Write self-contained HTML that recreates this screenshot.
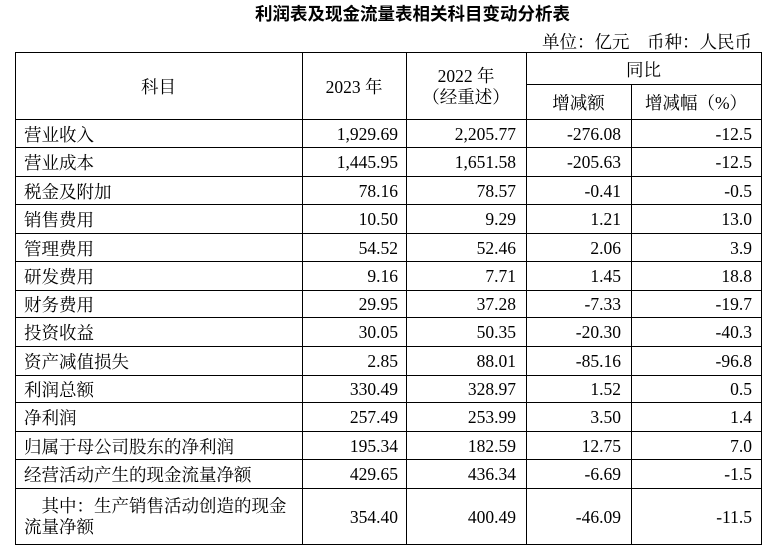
<!DOCTYPE html>
<html><head><meta charset="utf-8">
<style>
*{margin:0;padding:0;box-sizing:border-box}
html,body{width:775px;height:551px;background:#fff;overflow:hidden}
body{position:relative;font-family:"Liberation Serif","Noto Serif CJK SC",serif;font-size:17.5px;color:#000}
.t{position:absolute;left:240px;width:345px;top:0;height:28px;line-height:28px;text-align:center;font-family:"Liberation Sans","Noto Sans CJK SC",sans-serif;font-weight:bold;font-size:17.5px;white-space:nowrap}
.u{position:absolute;right:23px;top:29px;height:26px;line-height:26px;white-space:nowrap}
.h{position:absolute;background:#000;height:1px}
.v{position:absolute;background:#000;width:1px}
.c{position:absolute;display:flex;align-items:center;white-space:nowrap;padding-top:2px}
.cc{justify-content:center;text-align:center}
.r{position:absolute;left:0;width:775px}
.r .c{top:0;bottom:0}
.a{left:24px}
.b{left:302px;width:104px;justify-content:flex-end;padding-right:8px}
.d{left:406px;width:120px;justify-content:flex-end;padding-right:10px}
.e{left:526px;width:105px;justify-content:flex-end;padding-right:10px}
.f{left:631px;width:130px;justify-content:flex-end;padding-right:9px}
</style></head><body>
<div class="t">利润表及现金流量表相关科目变动分析表</div>
<div class="u">单位：亿元　币种：人民币</div>

<!-- horizontal lines -->
<div class="h" style="left:15px;width:747px;top:52px"></div>
<div class="h" style="left:526px;width:236px;top:84px"></div>
<div class="h" style="left:15px;width:747px;top:119px"></div>
<div class="h" style="left:15px;width:747px;top:147px"></div>
<div class="h" style="left:15px;width:747px;top:176px"></div>
<div class="h" style="left:15px;width:747px;top:204px"></div>
<div class="h" style="left:15px;width:747px;top:233px"></div>
<div class="h" style="left:15px;width:747px;top:261px"></div>
<div class="h" style="left:15px;width:747px;top:290px"></div>
<div class="h" style="left:15px;width:747px;top:317px"></div>
<div class="h" style="left:15px;width:747px;top:346px"></div>
<div class="h" style="left:15px;width:747px;top:375px"></div>
<div class="h" style="left:15px;width:747px;top:402px"></div>
<div class="h" style="left:15px;width:747px;top:431px"></div>
<div class="h" style="left:15px;width:747px;top:459px"></div>
<div class="h" style="left:15px;width:747px;top:488px"></div>
<div class="h" style="left:15px;width:747px;top:544px"></div>
<!-- vertical lines -->
<div class="v" style="left:15px;top:52px;height:493px"></div>
<div class="v" style="left:302px;top:52px;height:493px"></div>
<div class="v" style="left:406px;top:52px;height:493px"></div>
<div class="v" style="left:526px;top:52px;height:493px"></div>
<div class="v" style="left:631px;top:84px;height:461px"></div>
<div class="v" style="left:761px;top:52px;height:493px"></div>

<!-- header -->
<div class="c cc" style="left:15px;width:287px;top:52px;height:67px">科目</div>
<div class="c cc" style="left:302px;width:104px;top:52px;height:67px">2023 年</div>
<div class="c cc" style="left:406px;width:120px;top:52px;height:67px;line-height:21px">2022 年<br>（经重述）</div>
<div class="c cc" style="left:526px;width:235px;top:52px;height:32px">同比</div>
<div class="c cc" style="left:526px;width:105px;top:84px;height:35px">增减额</div>
<div class="c cc" style="left:631px;width:130px;top:84px;height:35px">增减幅（%）</div>

<!-- rows -->
<div class="r" style="top:119px;height:28px"><div class="c a">营业收入</div><div class="c b">1,929.69</div><div class="c d">2,205.77</div><div class="c e">-276.08</div><div class="c f">-12.5</div></div>
<div class="r" style="top:147px;height:29px"><div class="c a">营业成本</div><div class="c b">1,445.95</div><div class="c d">1,651.58</div><div class="c e">-205.63</div><div class="c f">-12.5</div></div>
<div class="r" style="top:176px;height:28px"><div class="c a">税金及附加</div><div class="c b">78.16</div><div class="c d">78.57</div><div class="c e">-0.41</div><div class="c f">-0.5</div></div>
<div class="r" style="top:204px;height:29px"><div class="c a">销售费用</div><div class="c b">10.50</div><div class="c d">9.29</div><div class="c e">1.21</div><div class="c f">13.0</div></div>
<div class="r" style="top:233px;height:28px"><div class="c a">管理费用</div><div class="c b">54.52</div><div class="c d">52.46</div><div class="c e">2.06</div><div class="c f">3.9</div></div>
<div class="r" style="top:261px;height:29px"><div class="c a">研发费用</div><div class="c b">9.16</div><div class="c d">7.71</div><div class="c e">1.45</div><div class="c f">18.8</div></div>
<div class="r" style="top:290px;height:27px"><div class="c a">财务费用</div><div class="c b">29.95</div><div class="c d">37.28</div><div class="c e">-7.33</div><div class="c f">-19.7</div></div>
<div class="r" style="top:317px;height:29px"><div class="c a">投资收益</div><div class="c b">30.05</div><div class="c d">50.35</div><div class="c e">-20.30</div><div class="c f">-40.3</div></div>
<div class="r" style="top:346px;height:29px"><div class="c a">资产减值损失</div><div class="c b">2.85</div><div class="c d">88.01</div><div class="c e">-85.16</div><div class="c f">-96.8</div></div>
<div class="r" style="top:375px;height:27px"><div class="c a">利润总额</div><div class="c b">330.49</div><div class="c d">328.97</div><div class="c e">1.52</div><div class="c f">0.5</div></div>
<div class="r" style="top:402px;height:29px"><div class="c a">净利润</div><div class="c b">257.49</div><div class="c d">253.99</div><div class="c e">3.50</div><div class="c f">1.4</div></div>
<div class="r" style="top:431px;height:28px"><div class="c a">归属于母公司股东的净利润</div><div class="c b">195.34</div><div class="c d">182.59</div><div class="c e">12.75</div><div class="c f">7.0</div></div>
<div class="r" style="top:459px;height:29px"><div class="c a">经营活动产生的现金流量净额</div><div class="c b">429.65</div><div class="c d">436.34</div><div class="c e">-6.69</div><div class="c f">-1.5</div></div>
<div class="r" style="top:488px;height:56px"><div class="c a" style="line-height:21px;display:block;padding-top:8px"><span style="padding-left:17.5px">其中：生产销售活动创造的现金</span><br>流量净额</div><div class="c b">354.40</div><div class="c d">400.49</div><div class="c e">-46.09</div><div class="c f">-11.5</div></div>
</body></html>
